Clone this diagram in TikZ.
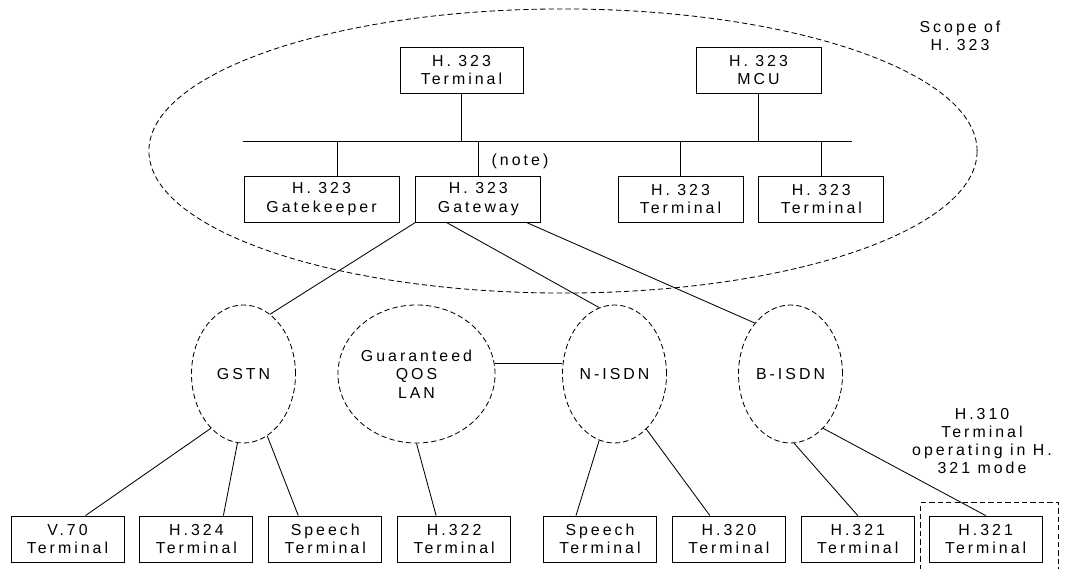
\documentclass[tikz,border=0pt]{standalone}
\usepackage{fontspec}
\setmainfont{Liberation Sans}[LetterSpace=19]
\usetikzlibrary{positioning,shapes.geometric}

\begin{document}
\begin{tikzpicture}[x=0.025cm, y=-0.025cm, node distance=0.375cm,
        font=\fontsize{11.3}{13}\selectfont, line width=0.6pt,
        box/.style={draw, rectangle, align=center, inner sep=0pt, minimum height=1.15cm, minimum width=2.825cm},
        net/.style={draw, ellipse, dash pattern=on 3.8pt off 2.2pt, inner sep=0pt, align=center, minimum width=2.6cm, minimum height=3.45cm}]
            \useasboundingbox (0,0) rectangle (1072,569);

            % Nodes
            \node[draw, ellipse, dash pattern=on 3.8pt off 2.2pt, minimum width=20.7cm, minimum height=7.1cm] (scope) at (563,151) {};
            \node[align=center] (scopelbl) at (960,36) {Scope of\\H. 323};

            \node[box, minimum width=3.075cm] (term) at (461.5,70) {H. 323\\Terminal};
            \node[box, minimum width=3.125cm] (mcu) at (758.5,70) {H. 323\\MCU};
            \node[box, minimum width=3.875cm] (gk) at (321.5,199) {H. 323\\Gatekeeper};
            \node[box, minimum width=3.125cm, right=0.4cm of gk] (gw) {H. 323\\Gateway};
            \node[box, minimum width=3.125cm] (termA) at (680.5,199) {H. 323\\Terminal};
            \node[box, minimum width=3.125cm, right=of termA] (termB) {H. 323\\Terminal};
            \node (note) at (520,161) {(note)};
            \coordinate (busL) at (243,141);
            \coordinate (busR) at (852,141);

            \node[net] (gstn) at (243.5,374) {GSTN};
            \node[net, minimum width=3.775cm] (lan) at (416.5,374) {Guaranteed\\QOS\\LAN};
            \node[net] (nisdn) at (614.5,374) {N-ISDN};
            \node[net] (bisdn) at (790.5,374) {B-ISDN};

            \node[box] (v70) at (67.5,539) {V.70\\Terminal};
            \node[box, right=of v70] (h324) {H.324\\Terminal};
            \node[box, right=of h324] (speechA) {Speech\\Terminal};
            \node[box, right=of speechA] (h322) {H.322\\Terminal};
            \node[box, right=0.8cm of h322] (speechB) {Speech\\Terminal};
            \node[box, right=of speechB] (h320) {H.320\\Terminal};
            \node[box, right=of h320] (h321) {H.321\\Terminal};
            \node[box, right=0.35cm of h321] (h321b) {H.321\\Terminal};
            \node[align=center] (h310) at (982,441) {H.310\\Terminal\\operating in H.\\321 mode};

            % Edges
            \draw (busL) -- (busR);
            \draw (term.south) -- (term.south |- busL);
            \draw (mcu.south) -- (mcu.south |- busL);
            \draw ([xshift=0.4cm]gk.north) -- ([xshift=0.4cm]gk.north |- busL);
            \draw (gw.north) -- (gw.north |- busL);
            \draw (termA.north) -- (termA.north |- busL);
            \draw (termB.north) -- (termB.north |- busL);

            \draw (gw.south west) -- (gstn.66);
            \draw ([xshift=-0.8cm]gw.south) -- (nisdn.103);
            \draw ([xshift=1.2cm]gw.south) -- (bisdn.125);
            \draw ([yshift=0.275cm]lan.east) -- ([yshift=0.275cm]nisdn.west);

            \draw (gstn.239) -- ([xshift=0.45cm]v70.north);
            \draw (gstn.265) -- ([xshift=0.675cm]h324.north);
            \draw (gstn.291) -- ([xshift=-0.675cm]speechA.north);
            \draw (lan.south) -- ([xshift=-0.45cm]h322.north);
            \draw (nisdn.257) -- ([xshift=-0.6cm]speechB.north);
            \draw (nisdn.300) -- ([xshift=-0.475cm]h320.north);
            \draw (bisdn.273) -- (h321.north);
            \draw (bisdn.301) -- (h321b.north);

            % H.310 frame
            \draw[dash pattern=on 3.8pt off 2.2pt] ([xshift=-0.2cm,yshift=-0.4cm]h321b.south west) -- ([xshift=-0.2cm,yshift=0.325cm]h321b.north west) -- ([xshift=0.4cm,yshift=0.325cm]h321b.north east) -- ([xshift=0.4cm,yshift=-0.4cm]h321b.south east);

        \end{tikzpicture}
\end{document}
